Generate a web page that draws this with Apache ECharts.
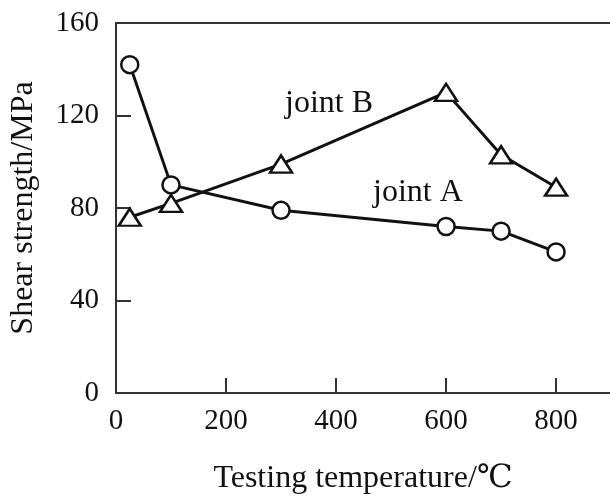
<!DOCTYPE html>
<html>
<head>
<meta charset="utf-8">
<script src="https://cdn.jsdelivr.net/npm/echarts@6/dist/echarts.min.js"></script>
<style>
html, body { margin: 0; padding: 0; background: #fff; }
#main { width: 610px; height: 500px; }
</style>
</head>
<body>
<div id="main"></div>
<script>
var temps = [25, 100, 300, 600, 700, 800];
var jointA = [142, 90, 79, 72, 70, 61];
var jointB = [76, 82, 99, 130, 103, 89];
var yTicks = [0, 40, 80, 120, 160];
var xTicks = [0, 200, 400, 600, 800];

var font = '"Liberation Serif", "DejaVu Serif", serif';
var ink = '#111';

function pairs(xs, ys) {
	return xs.map(function (x, i) { return [x, ys[i]]; });
}

var chartDom = document.getElementById('main');
var myChart = echarts.init(chartDom);
var option;

option = {
	animation: false,
	backgroundColor: '#fff',
	grid: {
		left: 114,
		top: 23,
		bottom: 107,
		right: 0
	},
	xAxis: [{
		type: 'value',
		min: 0,
		max: 898,
		name: 'Testing temperature/℃',
		nameLocation: 'middle',
		nameGap: 70,
		nameTextStyle: { fontFamily: font, fontSize: 32, color: ink },
		axisLine: { lineStyle: { color: '#333', width: 2 } },
		axisTick: { inside: true, length: 15, customValues: xTicks, lineStyle: { color: '#333', width: 2 } },
		axisLabel: { fontFamily: font, fontSize: 29, color: ink, margin: 14, customValues: xTicks },
		splitLine: { show: false }
	}, {
		type: 'value',
		position: 'top',
		min: 0,
		max: 898,
		axisLine: { show: true, lineStyle: { color: '#333', width: 2 } },
		axisTick: { show: false },
		axisLabel: { show: false },
		splitLine: { show: false }
	}],
	yAxis: {
		type: 'value',
		min: 0,
		max: 160,
		interval: 40,
		name: 'Shear strength/MPa',
		nameLocation: 'middle',
		nameGap: 76,
		nameTextStyle: { fontFamily: font, fontSize: 32, color: ink },
		axisLine: { lineStyle: { color: '#333', width: 2 } },
		axisTick: { inside: true, length: 15, lineStyle: { color: '#333', width: 2 } },
		axisLabel: {
			fontFamily: font, fontSize: 29, color: ink, margin: 17,
			formatter: function (v) { return yTicks.indexOf(v) >= 0 ? String(v) : ''; }
		},
		splitLine: { show: false }
	},
	series: [
		{
			name: 'joint A',
			type: 'line',
			data: pairs(temps, jointA),
			symbol: 'circle',
			symbolSize: 17,
			z: 3,
			lineStyle: { color: ink, width: 3 },
			itemStyle: { color: '#fff', borderColor: ink, borderWidth: 2.5 }
		},
		{
			name: 'joint B',
			type: 'line',
			data: pairs(temps, jointB),
			symbol: 'triangle',
			symbolSize: [22, 17],
			z: 2,
			lineStyle: { color: ink, width: 3 },
			itemStyle: { color: '#fff', borderColor: ink, borderWidth: 2.5 }
		}
	],
	graphic: [
		{
			type: 'text', left: 285, top: 88,
			style: { text: 'joint B', font: '32px ' + font, fill: ink }
		},
		{
			type: 'text', left: 373, top: 177,
			style: { text: 'joint A', font: '32px ' + font, fill: ink }
		}
	]
};

option && myChart.setOption(option);
</script>
</body>
</html>
